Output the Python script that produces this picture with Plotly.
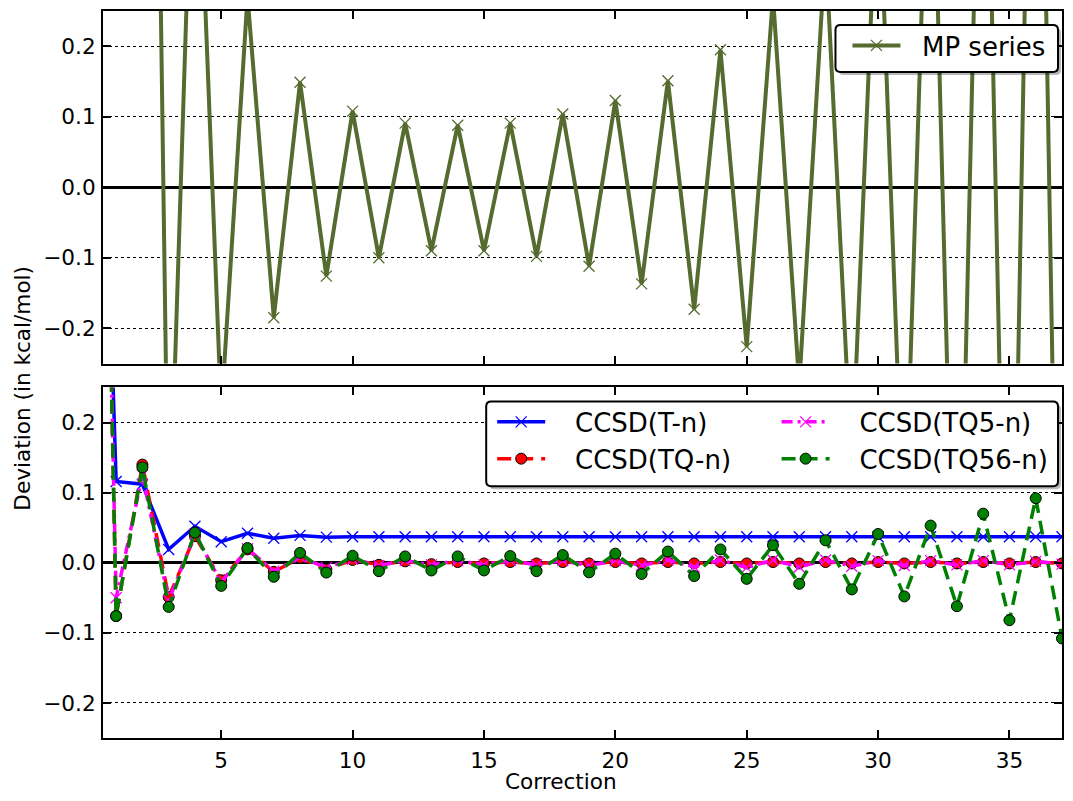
import plotly.graph_objects as go

# ---------------- data ----------------
mp_x = list(range(1, 38))
mp_vals = [1.50, 2.10, -0.53, 0.63, -0.32, 0.27, -0.185, 0.149, -0.126, 0.108,
           -0.100, 0.091, -0.090, 0.088, -0.090, 0.091, -0.098, 0.104, -0.112, 0.123,
           -0.137, 0.151, -0.173, 0.195, -0.226, 0.27, -0.28, 0.34, -0.40, 0.48,
           -0.52, 0.65, -0.79, 0.83, -0.92, 1.10, -1.03]

cc_x = list(range(0, 38))
t_n = [1.30, 0.116, 0.112, 0.019, 0.052, 0.030, 0.042, 0.035, 0.039, 0.0365,
       0.037, 0.037, 0.037, 0.037, 0.037, 0.037, 0.037, 0.037, 0.037, 0.037,
       0.037, 0.037, 0.037, 0.037, 0.037, 0.037, 0.037, 0.037, 0.037, 0.037,
       0.037, 0.037, 0.037, 0.037, 0.037, 0.037, 0.037, 0.037]
tq_n = [1.77, -0.076, 0.140, -0.049, 0.038, -0.025, 0.019, -0.013, 0.007, -0.0095,
        0.004, -0.003, 0.002, -0.002, 0.001, -0.001, 0.001, -0.001, 0.001, -0.001,
        0.001, -0.001, 0.001, -0.001, 0.001, -0.001, 0.001, -0.001, 0.001, -0.001,
        0.001, -0.001, 0.001, -0.001, 0.001, -0.001, 0.001, -0.001]
tq5_n = [1.70, -0.050, 0.125, -0.054, 0.041, -0.028, 0.020, -0.012, 0.008, -0.007,
         0.005, -0.004, 0.003, -0.003, 0.003, -0.003, 0.003, -0.003, 0.003, -0.004,
         0.003, -0.004, 0.004, -0.006, 0.004, -0.007, 0.004, -0.006, 0.004, -0.005,
         0.003, -0.004, 0.003, -0.003, 0.003, -0.003, 0.002, -0.002]
tq56_n = [1.77, -0.076, 0.136, -0.063, 0.043, -0.033, 0.021, -0.020, 0.014, -0.014,
          0.010, -0.012, 0.009, -0.011, 0.009, -0.011, 0.0095, -0.012, 0.011, -0.0137,
          0.013, -0.016, 0.016, -0.019, 0.019, -0.023, 0.025, -0.030, 0.032, -0.038,
          0.041, -0.048, 0.053, -0.062, 0.070, -0.082, 0.092, -0.108]

y_ticks = [-0.2, -0.1, 0.0, 0.1, 0.2]
x_ticks = [5, 10, 15, 20, 25, 30, 35]

# ---------------- layout helpers ----------------
OFF = 8  # page body margin: the figure starts 8px in from the top-left corner
W, H = 1073 - 2 * OFF, 801 - 2 * OFF      # keep the page free of scrolling
PL, PR, PT, PB = 103, 1064, 10, 738       # plot area in screenshot pixels
ML, MT = PL - OFF, PT - OFF
MR, MB = W - (PR - OFF), H - (PB - OFF)
PW, PH = W - ML - MR, H - MT - MB
FONT = "DejaVu Sans"
TICKF = 21.6
LEGF = 26


def px_x(p):
    # p is a pixel in the 1073x801 screenshot
    return (p - OFF - ML) / PW


def px_y(p):
    return (H - MB - (p - OFF)) / PH


def rrect(x0, y0, x1, y1, r=5):
    rx, ry = r / PW, r / PH
    X0, X1 = px_x(x0), px_x(x1)
    Y0, Y1 = px_y(y0), px_y(y1)
    return (f"M{X0+rx},{Y0} L{X1-rx},{Y0} Q{X1},{Y0} {X1},{Y0-ry} "
            f"L{X1},{Y1+ry} Q{X1},{Y1} {X1-rx},{Y1} L{X0+rx},{Y1} "
            f"Q{X0},{Y1} {X0},{Y1+ry} L{X0},{Y0-ry} Q{X0},{Y0} {X0+rx},{Y0} Z")


fig = go.Figure()

fig.add_trace(go.Scatter(
    x=mp_x, y=mp_vals, name="\u00a0\u00a0MP series", mode="lines+markers",
    line=dict(color="#556B2F", width=4),
    marker=dict(symbol="x-thin", size=11, color="#556B2F",
                line=dict(color="#556B2F", width=1.3)),
    xaxis="x", yaxis="y", legend="legend"))

fig.add_trace(go.Scatter(
    x=cc_x, y=t_n, name="\u00a0\u00a0\u00a0CCSD(T-n)", mode="lines+markers",
    line=dict(color="#0000FF", width=3.5),
    marker=dict(symbol="x-thin", size=11, color="#0000FF",
                line=dict(color="#0000FF", width=1.3)),
    xaxis="x2", yaxis="y2", legend="legend2"))
fig.add_trace(go.Scatter(
    x=cc_x, y=tq_n, name="\u00a0\u00a0\u00a0CCSD(TQ-n)", mode="lines+markers",
    line=dict(color="#FF0000", width=3.5, dash="14px,8px"),
    marker=dict(symbol="circle", size=11, color="#FF0000",
                line=dict(color="black", width=1)),
    xaxis="x2", yaxis="y2", legend="legend2"))
fig.add_trace(go.Scatter(
    x=cc_x, y=tq5_n, name="\u00a0\u00a0\u00a0CCSD(TQ5-n)", mode="lines+markers",
    line=dict(color="#FF00FF", width=3.5, dash="11px,5px,3px,5px"),
    marker=dict(symbol="x-thin", size=11, color="#FF00FF",
                line=dict(color="#FF00FF", width=1.3)),
    xaxis="x2", yaxis="y2", legend="legend3"))
fig.add_trace(go.Scatter(
    x=cc_x, y=tq56_n, name="\u00a0\u00a0\u00a0CCSD(TQ56-n)", mode="lines+markers",
    line=dict(color="#008000", width=3.5, dash="14px,8px"),
    marker=dict(symbol="circle", size=11, color="#008000",
                line=dict(color="black", width=1)),
    xaxis="x2", yaxis="y2", legend="legend3"))

axis_common = dict(
    showline=True, linecolor="black", linewidth=2, mirror="ticks",
    ticks="inside", ticklen=8, tickwidth=1.5, tickcolor="black",
    tickfont=dict(family=FONT, size=TICKF, color="black"),
)

yax = dict(axis_common, range=[-0.25, 0.25], tickvals=y_ticks, tickformat=".1f",
           showgrid=True, gridcolor="black", gridwidth=1, griddash="dot",
           zeroline=True, zerolinecolor="black", zerolinewidth=3,
           ticklabelstandoff=1)
xax = dict(axis_common, range=[0.5, 37], tickvals=x_ticks, showgrid=False,
           zeroline=False)

legend_common = dict(bgcolor="rgba(0,0,0,0)", borderwidth=0,
                     font=dict(family=FONT, size=LEGF, color="black"),
                     itemwidth=48, xanchor="left", yanchor="top",
                     orientation="v", tracegroupgap=0, itemclick=False)

shadow = "rgba(0,0,0,0.28)"
shapes = [
    dict(type="path", xref="paper", yref="paper", layer="above",
         path=rrect(840, 27, 1063, 74), fillcolor=shadow, line=dict(width=0)),
    dict(type="path", xref="paper", yref="paper", layer="above",
         path=rrect(837, 24, 1060, 71), fillcolor="white",
         line=dict(color="black", width=2)),
    dict(type="path", xref="paper", yref="paper", layer="above",
         path=rrect(490, 404, 1063, 489), fillcolor=shadow, line=dict(width=0)),
    dict(type="path", xref="paper", yref="paper", layer="above",
         path=rrect(487, 401, 1060, 486), fillcolor="white",
         line=dict(color="black", width=2)),
]

fig.update_layout(
    width=W, height=H,
    margin=dict(l=ML, r=MR, t=MT, b=MB),
    paper_bgcolor="white", plot_bgcolor="white",
    font=dict(family=FONT, color="black"),
    xaxis=dict(xax, anchor="y", showticklabels=False, matches="x2"),
    yaxis=dict(yax, domain=[px_y(363), 1.0], anchor="x"),
    xaxis2=dict(xax, anchor="y2", ticklabelstandoff=2),
    yaxis2=dict(yax, domain=[0.0, px_y(387)], anchor="x2"),
    legend=dict(legend_common, x=px_x(849), y=px_y(21)),
    legend2=dict(legend_common, x=px_x(493), y=px_y(398)),
    legend3=dict(legend_common, x=px_x(778), y=px_y(398)),
    shapes=shapes,
    showlegend=True,
    annotations=[
        dict(text="Deviation (in kcal/mol)", xref="paper", yref="paper",
             x=px_x(22), y=px_y(388), xanchor="center", yanchor="middle",
             textangle=-90, showarrow=False,
             font=dict(family=FONT, size=TICKF, color="black")),
        dict(text="Correction", xref="paper", yref="paper",
             x=px_x(562), y=px_y(782), xanchor="center", yanchor="middle",
             showarrow=False,
             font=dict(family=FONT, size=TICKF, color="black")),
    ],
)

fig.write_html("out.html")
